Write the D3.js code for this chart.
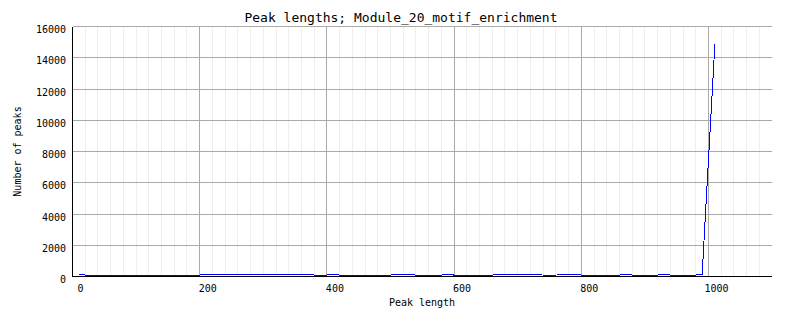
<!DOCTYPE html>
<html lang="en">
<head>
<meta charset="UTF-8">
<title>Peak lengths</title>
<script src="https://cdn.jsdelivr.net/npm/d3@7"></script>
<style>
  body { margin: 0; background: #fff; }
  text { font-family: "DejaVu Sans Mono", monospace; fill: #000; }
</style>
</head>
<body>
<div id="chart"></div>
<script>
// Peak length bins (bin centres) and number of peaks per bin
const peakLength = [10, 30, 50, 70, 90, 110, 130, 150, 170, 190,
                    210, 230, 250, 270, 290, 310, 330, 350, 370, 390,
                    410, 430, 450, 470, 490, 510, 530, 550, 570, 590,
                    610, 630, 650, 670, 690, 710, 730, 750, 770, 790,
                    810, 830, 850, 870, 890, 910, 930, 950, 970, 990, 1010];
const peakCount = [125, 60, 60, 60, 60, 60, 60, 60, 60, 60,
                   125, 125, 125, 125, 125, 125, 125, 125, 125, 60,
                   125, 60, 60, 60, 60, 125, 125, 60, 60, 125,
                   60, 60, 60, 125, 125, 125, 125, 60, 125, 125,
                   60, 60, 60, 125, 60, 60, 125, 60, 60, 125, 14850];
const xTicks = [0, 200, 400, 600, 800, 1000];
const yTicks = [0, 2000, 4000, 6000, 8000, 10000, 12000, 14000, 16000];
const chartTitle = "Peak lengths; Module_20_motif_enrichment";
const xTitle = "Peak length";
const yTitle = "Number of peaks";

const W = 802, H = 328;
const plotL = 72.5, plotR = 772.1, plotT = 26.5, plotB = 276.5;

const svg = d3.select("#chart").append("svg")
    .attr("width", W)
    .attr("height", H);

const x = d3.scaleLinear().domain([0, 1100]).range([plotL, plotR]);
const y = d3.scaleLinear().domain([0, 16000]).range([plotB, plotT]);
const px = v => Math.round(v - 0.5) + 0.5;

// minor vertical grid every 20
const minor = d3.range(20, 1100, 20).filter(v => v % 200 !== 0);
svg.append("g").selectAll("line")
  .data(minor)
  .join("line")
    .attr("x1", d => px(x(d)))
    .attr("x2", d => px(x(d)))
    .attr("y1", plotT)
    .attr("y2", plotB)
    .attr("stroke", "#eeeeee")
    .attr("shape-rendering", "crispEdges");

// major grid
svg.append("g").selectAll("line")
  .data(xTicks.filter(d => d > 0))
  .join("line")
    .attr("x1", d => px(x(d)))
    .attr("x2", d => px(x(d)))
    .attr("y1", plotT)
    .attr("y2", plotB)
    .attr("stroke", "#aaaaaa")
    .attr("shape-rendering", "crispEdges");

svg.append("g").selectAll("line")
  .data(yTicks.filter(d => d > 0))
  .join("line")
    .attr("x1", plotL)
    .attr("x2", plotR)
    .attr("y1", d => px(y(d)))
    .attr("y2", d => px(y(d)))
    .attr("stroke", "#aaaaaa")
    .attr("shape-rendering", "crispEdges");

// data line
svg.append("path")
    .datum(peakLength.map((v, i) => [v, peakCount[i]]))
    .attr("fill", "none")
    .attr("stroke", "#0000ff")
    .attr("stroke-width", 1)
    .attr("shape-rendering", "crispEdges")
    .attr("d", d3.line().x(d => x(d[0])).y(d => y(d[1])));

// axes lines
svg.append("line")
    .attr("x1", plotL).attr("x2", plotL)
    .attr("y1", plotT).attr("y2", plotB)
    .attr("stroke", "#000")
    .attr("shape-rendering", "crispEdges");
svg.append("line")
    .attr("x1", plotL).attr("x2", plotR)
    .attr("y1", plotB).attr("y2", plotB)
    .attr("stroke", "#000")
    .attr("shape-rendering", "crispEdges");

// tick labels
svg.append("g").selectAll("text")
  .data(yTicks)
  .join("text")
    .attr("x", 66)
    .attr("y", d => y(d) + 6.5)
    .attr("text-anchor", "end")
    .style("font-size", "10px")
    .text(d => d);

svg.append("g").selectAll("text")
  .data(xTicks)
  .join("text")
    .attr("x", d => x(d) + 8)
    .attr("y", 292)
    .attr("text-anchor", "middle")
    .style("font-size", "10px")
    .text(d => d);

// titles
svg.append("text")
    .attr("x", 401)
    .attr("y", 22)
    .attr("text-anchor", "middle")
    .style("font-size", "13px")
    .text(chartTitle);

svg.append("text")
    .attr("x", 422)
    .attr("y", 305.5)
    .attr("text-anchor", "middle")
    .style("font-size", "10px")
    .text(xTitle);

svg.append("text")
    .attr("transform", `translate(21,${(plotT + plotB) / 2}) rotate(-90)`)
    .attr("text-anchor", "middle")
    .style("font-size", "10px")
    .text(yTitle);
</script>
</body>
</html>
